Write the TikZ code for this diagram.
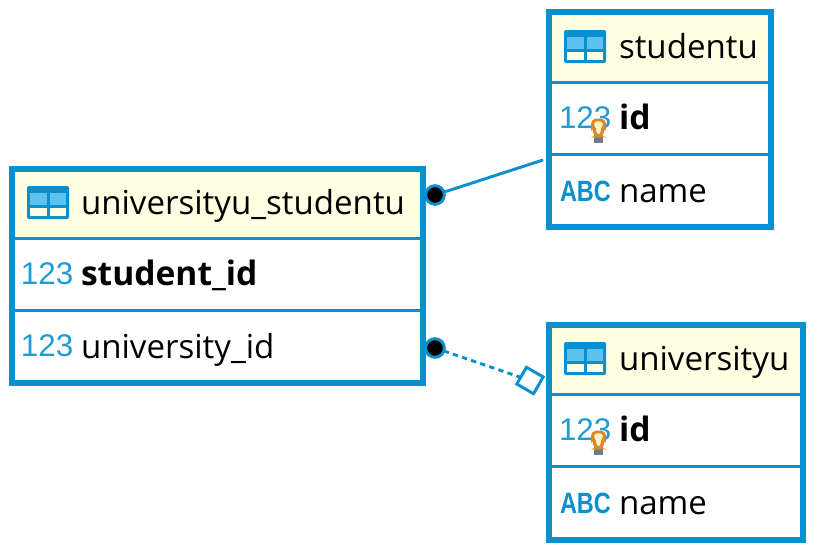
\documentclass[tikz,border=0pt]{standalone}
\usepackage{fontspec}
\setmainfont{Open Sans}
\newfontfamily\iconfont{Liberation Sans}
\definecolor{erblue}{HTML}{0A8FCF}
\definecolor{erhead}{HTML}{FFFFE3}
\definecolor{erlight}{HTML}{5EC2EE}
\definecolor{erbulb}{HTML}{D98A2B}
\definecolor{erbulbin}{HTML}{FFF1C8}
\definecolor{erstem}{HTML}{6E7C8A}
\tikzset{
  x=0.75pt, y=-0.75pt,
  tablebox/.style={draw=erblue, line width=4.5pt, fill=none, inner sep=0pt, outer sep=0pt},
  headfill/.style={fill=erhead},
  sepline/.style={draw=erblue, line width=2.2pt},
  label/.style={anchor=base west, inner sep=0pt, outer sep=0pt, font=\fontsize{24.8pt}{30pt}\selectfont, text=black},
  keylabel/.style={label, font=\fontsize{25.2pt}{30pt}\selectfont\bfseries},
  numicon/.style={anchor=base west, inner sep=0pt, outer sep=0pt, text=erblue!90, font=\iconfont\fontsize{23.5pt}{28pt}\selectfont},
  abcicon/.style={anchor=base west, inner sep=0pt, outer sep=0pt, text=erblue, font=\iconfont\bfseries\fontsize{17.6pt}{20pt}\selectfont},
  dot/.style={circle, draw=erblue, fill=black, line width=2.2pt, minimum size=14pt, inner sep=0pt, outer sep=0pt},
  openbox/.style={rectangle, rotate=-30, draw=erblue, fill=white, line width=2.2pt, minimum size=14.5pt, inner sep=0pt, outer sep=0pt},
  link/.style={draw=erblue, line width=2.2pt},
  dashlink/.style={link, dash pattern=on 4pt off 3.2pt},
  tableicon/.pic={
    \fill[erblue, rounded corners=1.5pt] (0,0) rectangle (42,33);
    \fill[erlight] (3,7) rectangle (19.5,19);
    \fill[erlight] (22.5,7) rectangle (39,19);
    \fill[erhead] (3,22) rectangle (19.5,30);
    \fill[erhead] (22.5,22) rectangle (39,30);
  },
  bulbicon/.pic={
    \fill[erstem] (-4.5,9) rectangle (4.5,17);
    \filldraw[draw=erbulb, fill=erbulbin, line width=2.2pt, rounded corners=3pt] (-6,-6) -- (6,-6) -- (6,1) -- (3.5,4) -- (3.5,10) -- (-3.5,10) -- (-3.5,4) -- (-6,1) -- cycle;
  },
}
\begin{document}
\begin{tikzpicture}
\useasboundingbox (0,0) rectangle (823,550);
% header fills
\fill[headfill] (12,169) rectangle (423,238);
\fill[headfill] (549,12) rectangle (771,82);
\fill[headfill] (549,324) rectangle (803,394);
% separators
\draw[sepline] (12,238.5) -- (423,238.5);
\draw[sepline] (12,310.5) -- (423,310.5);
\draw[sepline] (549,82.5) -- (771,82.5);
\draw[sepline] (549,154.5) -- (771,154.5);
\draw[sepline] (549,394.5) -- (803,394.5);
\draw[sepline] (549,466.5) -- (803,466.5);
% table frames
\node[tablebox, minimum width=308.25pt, minimum height=160.5pt] (ustable) at (217.5,276) {};
\node[tablebox, minimum width=166.5pt, minimum height=161.25pt] (stable) at (660,119.5) {};
\node[tablebox, minimum width=190.5pt, minimum height=161.25pt] (utable) at (676,432) {};
% header icons
\pic at (27,186) {tableicon};
\pic at (564,30) {tableicon};
\pic at (564,342) {tableicon};
% column icons
\node[numicon] (n1) at (21,284) {123};
\node[numicon] (n2) at (21,356) {123};
\node[numicon] (n3) at (559,128) {123};
\node[numicon] (n4) at (559,440) {123};
\pic at (598.5,126) {bulbicon};
\pic at (598.5,438) {bulbicon};
\node[abcicon] (a1) at (560,201) {\scalebox{1}[1.25]{ABC}};
\node[abcicon] (a2) at (560,513) {\scalebox{1}[1.25]{ABC}};
% labels
\node[label] (t1) at (81,214) {universityu\_studentu};
\node[keylabel] (t2) at (81,285) {student\_id};
\node[label] (t3) at (81,358) {university\_id};
\node[label] (t4) at (619,58) {studentu};
\node[keylabel] (t5) at (619,129) {id};
\node[label] (t6) at (619,202) {name};
\node[label] (t7) at (619,370) {universityu};
\node[keylabel] (t8) at (619,441) {id};
\node[label] (t9) at (619,514) {name};
% connectors
\node[dot] (d1) at (435,195) {};
\node[dot] (d2) at (435,348) {};
\node[openbox] (box) at (530,380.5) {};
\coordinate (sfree) at (543,160);
\draw[link] (d1) -- (sfree);
\draw[dashlink] (d2) -- (box);
\end{tikzpicture}
\end{document}
